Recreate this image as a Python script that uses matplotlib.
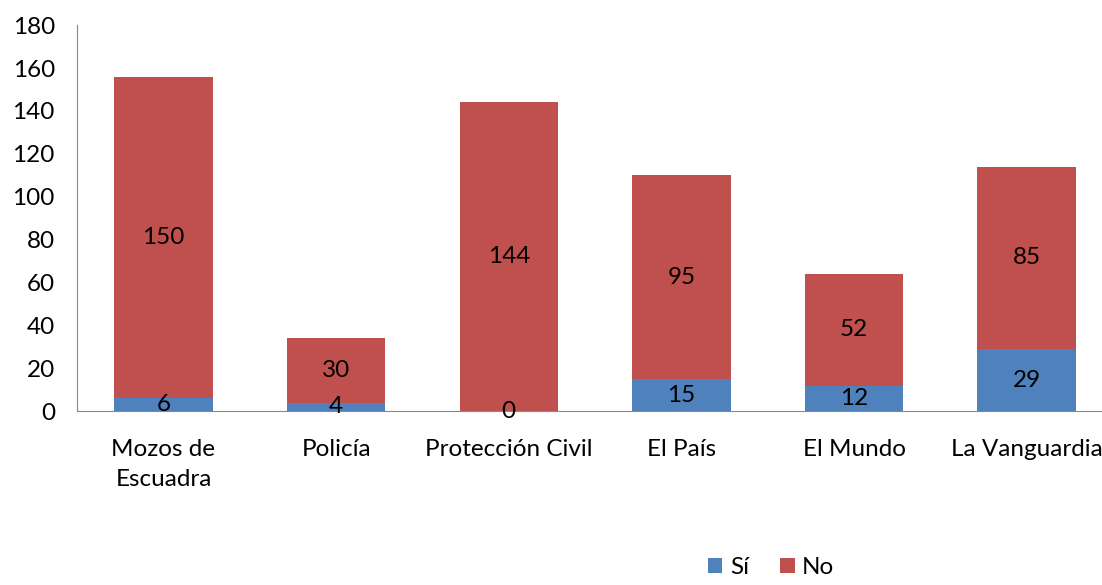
import matplotlib
matplotlib.use('Agg')
import matplotlib.pyplot as plt
import numpy as np

categorias = ['Mozos de\nEscuadra', 'Policía', 'Protección Civil', 'El País', 'El Mundo', 'La Vanguardia']
si = [6, 4, 0, 15, 12, 29]
no = [150, 30, 144, 95, 52, 85]

plt.rcParams['font.family'] = ['Lato', 'DejaVu Sans']
fs = 17.5

fig = plt.figure(figsize=(11.02, 5.85), dpi=100)
ax = fig.add_axes([0.07, 0.297, 0.94, 0.66])

x = np.arange(len(categorias))
ax.bar(x, si, width=0.57, color='#4F81BD', label='Sí')
ax.bar(x, no, width=0.57, bottom=si, color='#C0504D', label='No')

for i in range(len(x)):
    ax.text(x[i], si[i] / 2, str(si[i]), ha='center', va='center', fontsize=fs)
    ax.text(x[i], si[i] + no[i] / 2, str(no[i]), ha='center', va='center', fontsize=fs)

ax.set_xlim(-0.5, 5.5)
ax.set_ylim(0, 180)
ax.set_yticks(range(0, 181, 20))
ax.set_xticks(x)
ax.set_xticklabels(categorias, fontsize=fs, linespacing=1.5)
ax.tick_params(axis='y', labelsize=fs, length=0, pad=16)
ax.tick_params(axis='x', length=0, pad=20)
for s in ['top', 'right']:
    ax.spines[s].set_visible(False)
ax.spines['left'].set_color('#888888')
ax.spines['bottom'].set_color('#888888')

ax.legend(loc='center', bbox_to_anchor=(0.67, -0.405), ncol=2, frameon=False,
          fontsize=fs, handlelength=0.6, handleheight=0.6, columnspacing=1.3, handletextpad=0.3)

plt.savefig('out.png', dpi=100)
